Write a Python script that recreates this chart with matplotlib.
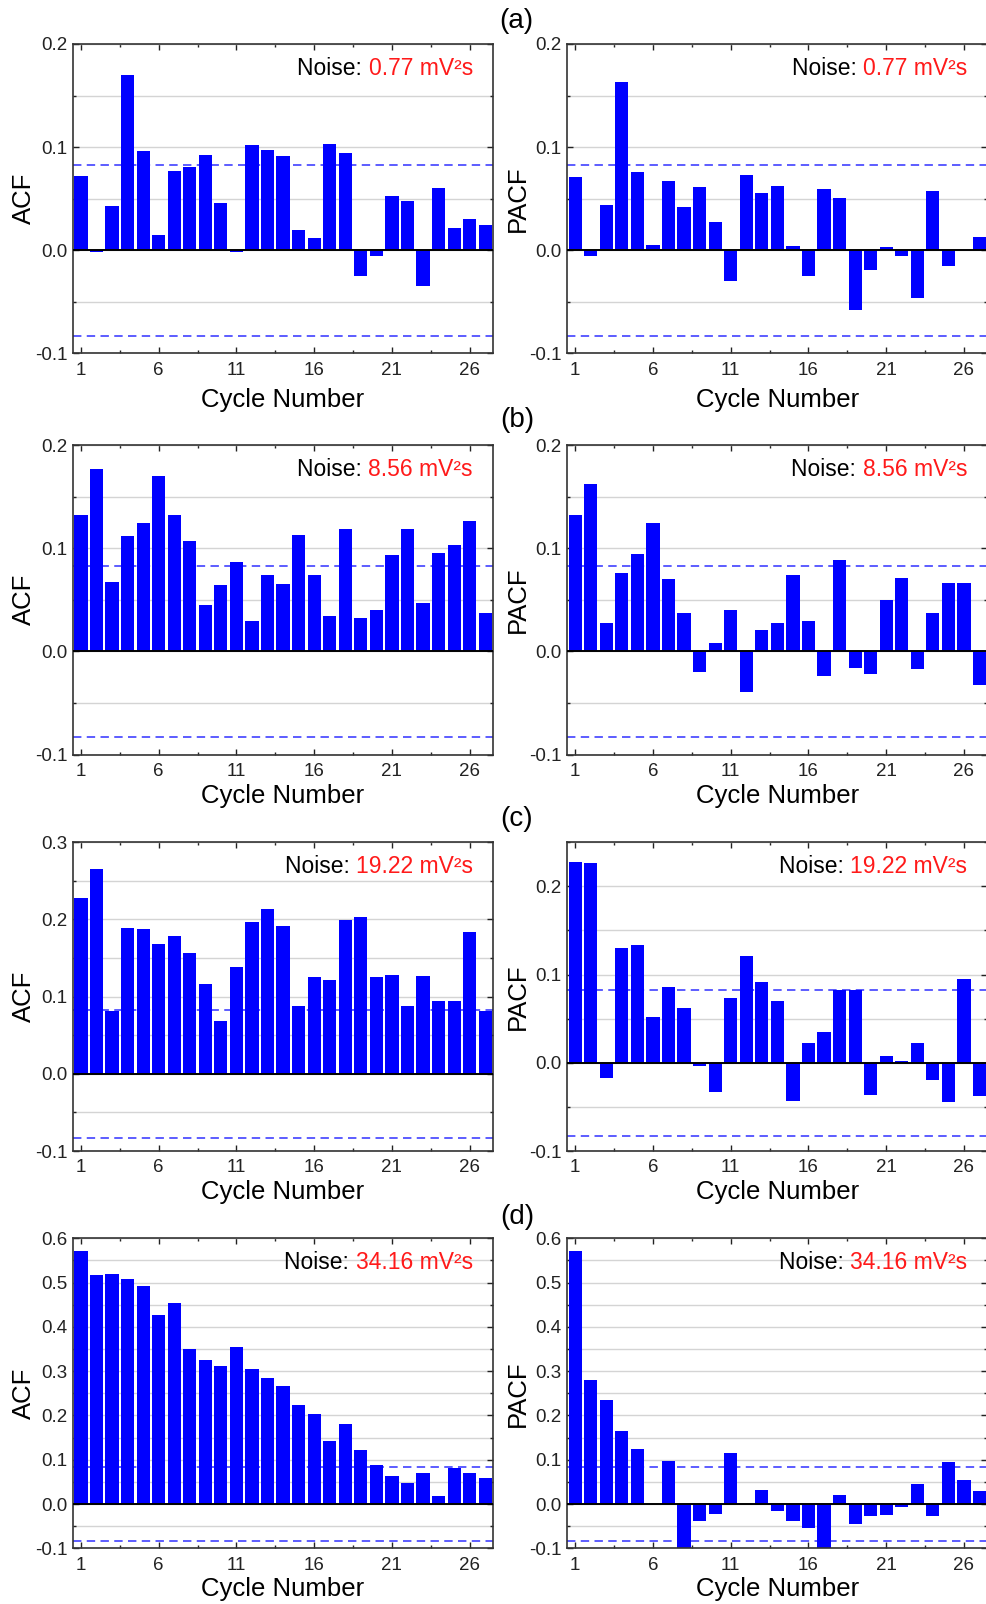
import numpy as np
import matplotlib
matplotlib.use("Agg")
import matplotlib.pyplot as plt
from matplotlib.ticker import MultipleLocator, FixedLocator, FormatStrFormatter

plt.rcParams['font.family'] = ['Liberation Sans', 'DejaVu Sans']
plt.rcParams['axes.unicode_minus'] = False

# ---------------- data ----------------
lags = list(range(1, 28))
xtick_labels = [1, 6, 11, 16, 21, 26]

acf_a = [0.072, -0.002, 0.043, 0.170, 0.096, 0.015, 0.077, 0.081, 0.092, 0.046,
         -0.002, 0.102, 0.097, 0.091, 0.020, 0.012, 0.103, 0.094, -0.025, -0.006,
         0.053, 0.048, -0.035, 0.060, 0.022, 0.030, 0.024]
pacf_a = [0.071, -0.006, 0.044, 0.163, 0.076, 0.005, 0.067, 0.042, 0.061, 0.027,
          -0.030, 0.073, 0.055, 0.062, 0.004, -0.025, 0.059, 0.051, -0.058, -0.019,
          0.003, -0.006, -0.046, 0.057, -0.015, 0.0, 0.013]
acf_b = [0.132, 0.177, 0.067, 0.112, 0.124, 0.170, 0.132, 0.107, 0.045, 0.064,
         0.087, 0.029, 0.074, 0.065, 0.113, 0.074, 0.034, 0.119, 0.032, 0.040,
         0.093, 0.119, 0.047, 0.095, 0.103, 0.126, 0.037]
pacf_b = [0.132, 0.162, 0.027, 0.076, 0.094, 0.124, 0.070, 0.037, -0.020, 0.008,
          0.040, -0.039, 0.021, 0.027, 0.074, 0.029, -0.024, 0.089, -0.016, -0.022,
          0.050, 0.071, -0.017, 0.037, 0.066, 0.066, -0.033]
acf_c = [0.228, 0.266, 0.082, 0.189, 0.188, 0.168, 0.179, 0.157, 0.116, 0.068,
         0.138, 0.197, 0.213, 0.191, 0.088, 0.126, 0.122, 0.199, 0.203, 0.125,
         0.128, 0.088, 0.127, 0.094, 0.094, 0.184, 0.081]
pacf_c = [0.228, 0.227, -0.017, 0.130, 0.133, 0.052, 0.086, 0.062, -0.004, -0.033,
          0.074, 0.121, 0.092, 0.070, -0.043, 0.022, 0.035, 0.083, 0.082, -0.036,
          0.008, 0.002, 0.022, -0.019, -0.045, 0.095, -0.038]
acf_d = [0.571, 0.518, 0.520, 0.507, 0.493, 0.426, 0.454, 0.350, 0.326, 0.311,
         0.354, 0.306, 0.284, 0.267, 0.223, 0.203, 0.143, 0.181, 0.122, 0.087,
         0.064, 0.048, 0.069, 0.018, 0.082, 0.070, 0.059]
pacf_d = [0.571, 0.281, 0.234, 0.166, 0.125, 0.0, 0.098, -0.115, -0.038, -0.023,
          0.115, 0.0, 0.032, -0.015, -0.038, -0.054, -0.115, 0.020, -0.044, -0.028,
          -0.024, -0.007, 0.045, -0.026, 0.095, 0.054, 0.029]

noise_labels = ["0.77", "8.56", "19.22", "34.16"]
panel_letters = ["(a)", "(b)", "(c)", "(d)"]
conf_limit = 0.083

rows = [
    (acf_a, pacf_a, (-0.1, 0.2), (-0.1, 0.2)),
    (acf_b, pacf_b, (-0.1, 0.2), (-0.1, 0.2)),
    (acf_c, pacf_c, (-0.1, 0.3), (-0.1, 0.25)),
    (acf_d, pacf_d, (-0.1, 0.6), (-0.1, 0.6)),
]

# ---------------- layout (pixels) ----------------
W, H = 986, 1604
fig = plt.figure(figsize=(W / 100, H / 100), dpi=100)
tops = [44, 445, 842.3, 1238.3]
bottoms = [353.3, 754.5, 1151, 1548.3]
lefts = [72.7, 567]
width = 420.3
letter_xy = [(516, 21), (517, 420), (517, 819), (517, 1217)]
xlabel_off = [0.113, 0.094, 0.094, 0.094]

blue = '#0000ff'


def draw(ax, vals, ylim, ylabel, noise, xoff):
    ax.set_xlim(0.47, 27.5)
    ax.set_ylim(*ylim)
    ax.bar(lags, vals, width=0.85, color=blue, edgecolor='none', zorder=2)
    ax.axhline(0, color='black', lw=1.4, zorder=3)
    for v in (conf_limit, -conf_limit):
        ax.axhline(v, color='#3030ff', lw=1.1, linestyle=(0, (5.5, 3.5)), zorder=1)
    ax.yaxis.set_major_locator(MultipleLocator(0.1))
    ax.yaxis.set_minor_locator(MultipleLocator(0.05))
    ax.yaxis.set_major_formatter(FormatStrFormatter('%.1f'))
    ax.xaxis.set_major_locator(FixedLocator(xtick_labels))
    ax.xaxis.set_minor_locator(FixedLocator([3.5, 8.5, 13.5, 18.5, 23.5]))
    ax.set_xticklabels([str(t) for t in xtick_labels])
    ax.yaxis.grid(True, which='both', color='#d4d4d4', lw=1.0, zorder=0)
    ax.set_axisbelow(True)
    ax.tick_params(which='both', direction='in', top=True, right=True,
                   labelsize=13.5, colors='#222222', width=1.0)
    ax.tick_params(which='major', length=4)
    ax.tick_params(which='minor', length=2.5)
    ax.tick_params(axis='x', pad=6)
    ax.tick_params(axis='y', pad=4)
    for sp in ax.spines.values():
        sp.set_color('#333333')
        sp.set_linewidth(1.2)
    ax.set_ylabel(ylabel, fontsize=18.5)
    ax.yaxis.set_label_coords(-0.088, 0.5)
    ax.set_xlabel('Cycle Number', fontsize=18.5)
    ax.xaxis.set_label_coords(0.5, -xoff)
    red = ax.text(0.952, 0.90, noise + " mV\u00b2s", color='#ff1a1a', fontsize=16.5,
                  ha='right', va='baseline', transform=ax.transAxes)
    ax.annotate("Noise: ", xy=(0, 0), xycoords=red, ha='right', va='bottom',
                fontsize=16.5, color='black')


for i, (acf, pacf, yl_l, yl_r) in enumerate(rows):
    h = bottoms[i] - tops[i]
    axl = fig.add_axes([lefts[0] / W, 1 - bottoms[i] / H, width / W, h / H])
    draw(axl, acf, yl_l, 'ACF', noise_labels[i], xlabel_off[i])
    axr = fig.add_axes([lefts[1] / W, 1 - bottoms[i] / H, width / W, h / H])
    draw(axr, pacf, yl_r, 'PACF', noise_labels[i], xlabel_off[i])
    lx, ly = letter_xy[i]
    fig.text(lx / W, 1 - ly / H, panel_letters[i], fontsize=20,
             ha='center', va='center')

fig.savefig('out.png', dpi=100)
